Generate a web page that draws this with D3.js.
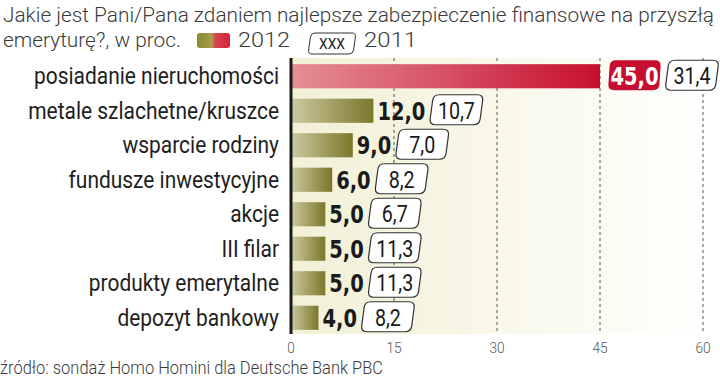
<!DOCTYPE html>
<html><head><meta charset="utf-8">
<script src="https://cdn.jsdelivr.net/npm/d3@7"></script>
<style>
html,body{margin:0;padding:0;background:#fff;}
svg{display:block;}
text{font-family:Roboto,"Noto Sans",sans-serif;}
.bold{font-family:"DejaVu Sans Condensed","DejaVu Sans",sans-serif;font-stretch:condensed;font-weight:bold;}
</style></head>
<body>
<svg id="chart" width="720" height="379"></svg>
<script>
const categories = ["posiadanie nieruchomości","metale szlachetne/kruszce","wsparcie rodziny","fundusze inwestycyjne","akcje","III filar","produkty emerytalne","depozyt bankowy"];
const values2012 = [45.0,12.0,9.0,6.0,5.0,5.0,5.0,4.0];
const values2011 = [31.4,10.7,7.0,8.2,6.7,11.3,11.3,8.2];
const tickValues = [0,15,30,45,60];
const titleLines = ["Jakie jest Pani/Pana zdaniem najlepsze zabezpieczenie finansowe na przyszłą","emeryturę?, w proc."];
const legendLabels = ["2012","2011"];
const sourceText = "źródło: sondaż Homo Homini dla Deutsche Bank PBC";

const svg = d3.select("#chart");
const fmt = d3.formatLocale({decimal:",",thousands:" ",grouping:[3],currency:["",""]}).format(".1f");

const x = d3.scaleLinear().domain([0,60]).range([291,703]);
const y = d3.scaleBand().domain(categories).range([59,335]).paddingInner(0.3).paddingOuter(0.15);

function squeeze(sel, f){
  sel.each(function(){
    const w = this.getComputedTextLength();
    d3.select(this).attr("textLength", w*f).attr("lengthAdjust","spacingAndGlyphs");
  });
  return sel;
}
function fitTo(sel, target){
  const w = sel.node().getComputedTextLength();
  sel.attr("textLength", target).attr("lengthAdjust","spacingAndGlyphs");
  return target/w;
}

const defs = svg.append("defs");
function grad(id, stops){
  const g = defs.append("linearGradient").attr("id",id).attr("x1","0%").attr("x2","100%").attr("y1","0%").attr("y2","0%");
  stops.forEach(s=>g.append("stop").attr("offset",s[0]).attr("stop-color",s[1]));
}
grad("bg",[["0%","#f2f0d6"],["70%","#fbfbf2"],["100%","#ffffff"]]);
grad("olive",[["0%","#cdcaa2"],["100%","#7b772a"]]);
grad("red",[["0%","#e59095"],["100%","#c60f30"]]);
grad("legend",[["0%","#8b8636"],["45%","#a6a048"],["55%","#d9444f"],["100%","#d0243a"]]);

function roundedPoly(pts, r){
  let d = "";
  const n = pts.length;
  for(let i=0;i<n;i++){
    const P = pts[i], A = pts[(i-1+n)%n], B = pts[(i+1)%n];
    const la = Math.hypot(A[0]-P[0],A[1]-P[1]), lb = Math.hypot(B[0]-P[0],B[1]-P[1]);
    const s = [P[0]+(A[0]-P[0])*r/la, P[1]+(A[1]-P[1])*r/la];
    const e = [P[0]+(B[0]-P[0])*r/lb, P[1]+(B[1]-P[1])*r/lb];
    d += (i===0?"M":"L")+s[0]+","+s[1]+"Q"+P[0]+","+P[1]+" "+e[0]+","+e[1];
  }
  return d+"Z";
}
function slantBox(x0,y0,w,h,sk,r){
  return roundedPoly([[x0,y0+h],[x0+sk,y0],[x0+w,y0],[x0+w-sk,y0+h]], r);
}

// title
const t1 = svg.append("text").attr("x",3).attr("y",21.5).attr("font-size",21).attr("font-weight",300).attr("fill","#3a3a3a").text(titleLines[0]);
fitTo(t1, 711);
const t2 = svg.append("text").attr("x",3).attr("y",47).attr("font-size",21).attr("font-weight",300).attr("fill","#3a3a3a").text(titleLines[1]);
fitTo(t2, 178);

// legend
svg.append("rect").attr("x",197).attr("y",33).attr("width",33).attr("height",15).attr("rx",3).attr("fill","url(#legend)");
const l1 = svg.append("text").attr("x",238).attr("y",47).attr("font-size",21).attr("font-weight",300).attr("fill","#3a3a3a").text(legendLabels[0]);
fitTo(l1, 52);
svg.append("path").attr("d",slantBox(308,33,48,21,3,4)).attr("fill","#fff").attr("stroke","#333").attr("stroke-width",1);
const lx = svg.append("text").attr("x",332).attr("y",49).attr("text-anchor","middle").attr("font-size",15).attr("fill","#222").text("XXX");
fitTo(lx, 26);
const l2 = svg.append("text").attr("x",364).attr("y",47).attr("font-size",21).attr("font-weight",300).attr("fill","#3a3a3a").text(legendLabels[1]);
fitTo(l2, 53);

// plot background
svg.append("rect").attr("x",x(0)).attr("y",58).attr("width",712-x(0)).attr("height",276).attr("fill","url(#bg)");

// grid
svg.append("g").selectAll("line").data(tickValues.filter(t=>t>0)).join("line")
  .attr("x1",d=>x(d)).attr("x2",d=>x(d)).attr("y1",58).attr("y2",334)
  .attr("stroke","#555").attr("stroke-width",1).attr("stroke-dasharray","3,3");

// tick labels
const tl = svg.append("g").selectAll("text").data(tickValues).join("text")
  .attr("x",d=>x(d)).attr("y",353).attr("text-anchor","middle").attr("font-size",15.5).attr("font-weight",300).attr("fill","#555")
  .text(d=>d);
squeeze(tl, 0.88);

// bars
svg.append("g").selectAll("rect").data(categories).join("rect")
  .attr("x",x(0)).attr("y",d=>y(d)).attr("width",(d,i)=>x(values2012[i])-x(0)).attr("height",y.bandwidth())
  .attr("fill",(d,i)=>i===0?"url(#red)":"url(#olive)");

// axis line
svg.append("line").attr("x1",x(0)).attr("x2",x(0)).attr("y1",58).attr("y2",334).attr("stroke","#1a1a1a").attr("stroke-width",3);

// category labels
const cl = svg.append("g").selectAll("text").data(categories).join("text")
  .attr("x",279).attr("y",d=>y(d)+y.bandwidth()/2+8).attr("text-anchor","end")
  .attr("font-size",24).attr("fill","#1e1e1e").text(d=>d);
const catF = 245/cl.nodes()[0].getComputedTextLength();
squeeze(cl, catF);

// value labels
const lab = svg.append("g");
let boldF = null, normF = null;
{
  const tmp = lab.append("text").attr("class","bold").attr("font-size",25).text("12,0");
  boldF = 48/tmp.node().getComputedTextLength(); tmp.remove();
  const tmp2 = lab.append("text").attr("font-size",23).text("10,7");
  normF = 37/tmp2.node().getComputedTextLength(); tmp2.remove();
}
categories.forEach((c,i)=>{
  const cy = y(c)+y.bandwidth()/2;
  let endX;
  if(i===0){
    const bx = x(values2012[i])+8;
    lab.append("path").attr("d",slantBox(bx,cy-16,53,30,2,6)).attr("fill","#c60f30");
    const t = lab.append("text").attr("class","bold").attr("x",bx+26.5).attr("y",cy+9).attr("text-anchor","middle")
      .attr("font-size",25).attr("fill","#fff").text(fmt(values2012[i]));
    squeeze(t, boldF);
    endX = bx+53;
  } else {
    const t = lab.append("text").attr("class","bold").attr("x",x(values2012[i])+4).attr("y",cy+9)
      .attr("font-size",25).attr("fill","#1a1a1a").text(fmt(values2012[i]));
    squeeze(t, boldF);
    endX = x(values2012[i])+4+(+t.attr("textLength"));
  }
  const bx2 = endX+4;
  lab.append("path").attr("d",slantBox(bx2,cy-16,54,30,4,6)).attr("fill","#fff").attr("stroke","#333").attr("stroke-width",1.2);
  const t2b = lab.append("text").attr("x",bx2+27).attr("y",cy+8).attr("text-anchor","middle")
    .attr("font-size",23).attr("fill","#1a1a1a").text(fmt(values2011[i]));
  squeeze(t2b, normF);
});

// source
const src = svg.append("text").attr("x",0).attr("y",374).attr("font-size",17.5).attr("font-weight",300).attr("fill","#3a3a3a").text(sourceText);
fitTo(src, 383);
</script>
</body></html>
